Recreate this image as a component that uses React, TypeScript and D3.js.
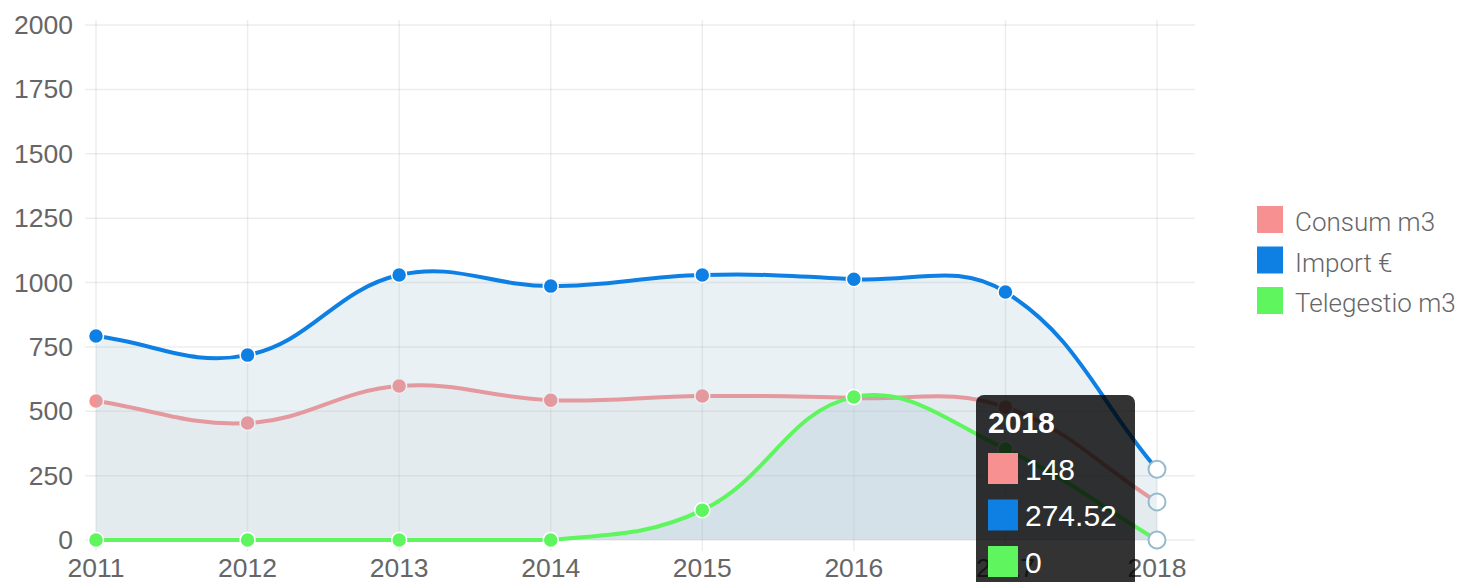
import React from 'react';
import * as d3 from 'd3';

// data
const years = ['2011', '2012', '2013', '2014', '2015', '2016', '2017', '2018'];
const consum = [540, 454, 598, 543, 559, 551, 516, 148];
const importEur = [792, 718, 1029, 986, 1029, 1013, 963, 274.52];
const telegestio = [0, 0, 0, 0, 116, 555, 353, 0];
const yTicks = [0, 250, 500, 750, 1000, 1250, 1500, 1750, 2000];

const seriesList = [
  { name: 'Consum m3', values: consum, color: '#f79191', fill: 'rgba(220,220,220,0.2)' },
  { name: 'Import €', values: importEur, color: '#0f80e3', fill: 'rgba(151,187,205,0.2)' },
  { name: 'Telegestio m3', values: telegestio, color: '#5ef55e', fill: 'rgba(151,187,205,0.2)' },
];

const hoverIndex = 7;

type Pt = [number, number];

// bezier spline like the old chart lib (tension 0.4, control points kept inside the plot)
function splinePath(pts: Pt[], top: number, bottom: number, closeTo?: number) {
  const t = 0.4;
  const cps = pts.map((p, i) => {
    const prev = pts[i - 1] || p;
    const next = pts[i + 1] || p;
    const d01 = Math.hypot(p[0] - prev[0], p[1] - prev[1]);
    const d12 = Math.hypot(next[0] - p[0], next[1] - p[1]);
    const sum = d01 + d12 || 1;
    const fa = (t * d01) / sum;
    const fb = (t * d12) / sum;
    const clamp = (v: number) => Math.max(top, Math.min(bottom, v));
    return {
      inner: [p[0] - fa * (next[0] - prev[0]), clamp(p[1] - fa * (next[1] - prev[1]))] as Pt,
      outer: [p[0] + fb * (next[0] - prev[0]), clamp(p[1] + fb * (next[1] - prev[1]))] as Pt,
    };
  });
  const path = d3.path();
  path.moveTo(pts[0][0], pts[0][1]);
  for (let i = 1; i < pts.length; i++) {
    const a = cps[i - 1].outer;
    const b = cps[i].inner;
    path.bezierCurveTo(a[0], a[1], b[0], b[1], pts[i][0], pts[i][1]);
  }
  if (closeTo !== undefined) {
    path.lineTo(pts[pts.length - 1][0], closeTo);
    path.lineTo(pts[0][0], closeTo);
    path.closePath();
  }
  return path.toString();
}

export default function App() {
  const width = 1461;
  const height = 582;

  const x = d3.scalePoint<string>().domain(years).range([96, 1157]);
  const y = d3.scaleLinear().domain([0, 2000]).range([540, 25]);

  const axisFont = '"Liberation Sans", Arial, sans-serif';

  const tipX = 976;
  const tipY = 395;

  return (
    <svg width={width} height={height} style={{ position: 'absolute', left: 0, top: 0 }}>
      <rect width={width} height={height} fill="#ffffff" />

      {/* grid */}
      <g>
        {yTicks.map(t => (
          <line key={'h' + t} x1={85} x2={1195} y1={y(t)} y2={y(t)} stroke="rgba(0,0,0,0.07)" strokeWidth={1.5} />
        ))}
        {years.map(yr => (
          <line key={'v' + yr} x1={x(yr)} x2={x(yr)} y1={20} y2={551} stroke="rgba(0,0,0,0.07)" strokeWidth={1.5} />
        ))}
      </g>

      {/* axis labels */}
      <g fontFamily={axisFont} fontSize={26.5} fill="#666">
        {yTicks.map(t => (
          <text key={'yl' + t} x={73} y={y(t)} textAnchor="end" dominantBaseline="central">{t}</text>
        ))}
        {years.map(yr => (
          <text key={'xl' + yr} x={x(yr)} y={577} textAnchor="middle">{yr}</text>
        ))}
      </g>

      {/* series */}
      {seriesList.map(s => {
        const pts: Pt[] = s.values.map((v, i) => [x(years[i]) as number, y(v)]);
        return (
          <g key={s.name}>
            <path d={splinePath(pts, y(2000), y(0), y(0))} fill={s.fill} />
            <path d={splinePath(pts, y(2000), y(0))} fill="none" stroke={s.color} strokeWidth={4} />
            {pts.map((p, i) => i === hoverIndex ? (
              <circle key={i} cx={p[0]} cy={p[1]} r={8.5} fill="#fff" stroke="rgba(151,187,205,1)" strokeWidth={2} />
            ) : (
              <circle key={i} cx={p[0]} cy={p[1]} r={7.5} fill={s.color} stroke="#fff" strokeWidth={1.5} />
            ))}
          </g>
        );
      })}

      {/* legend */}
      <g fontFamily="Roboto, sans-serif" fontWeight={300} fontSize={26} fill="#666">
        {seriesList.map((s, i) => (
          <g key={'lg' + s.name} transform={`translate(1257,${206 + i * 40.5})`}>
            <rect width={26} height={27} fill={s.color} />
            <text x={38} y={16} dominantBaseline="central">{s.name}</text>
          </g>
        ))}
      </g>

      {/* tooltip at 2018 */}
      <g>
        <rect x={tipX} y={tipY} width={159} height={220} rx={8} fill="rgba(0,0,0,0.8)" />
        <text x={988} y={422} fontFamily={axisFont} fontWeight="bold" fontSize={30} fill="#fff" dominantBaseline="central">
          {years[hoverIndex]}
        </text>
        {seriesList.map((s, i) => (
          <g key={'tt' + s.name} transform={`translate(988,${453 + i * 46.5})`}>
            <rect width={30} height={31} fill={s.color} />
            <text x={37} y={16} fontFamily={axisFont} fontSize={30} fill="#fff" dominantBaseline="central">
              {String(s.values[hoverIndex])}
            </text>
          </g>
        ))}
      </g>
    </svg>
  );
}
